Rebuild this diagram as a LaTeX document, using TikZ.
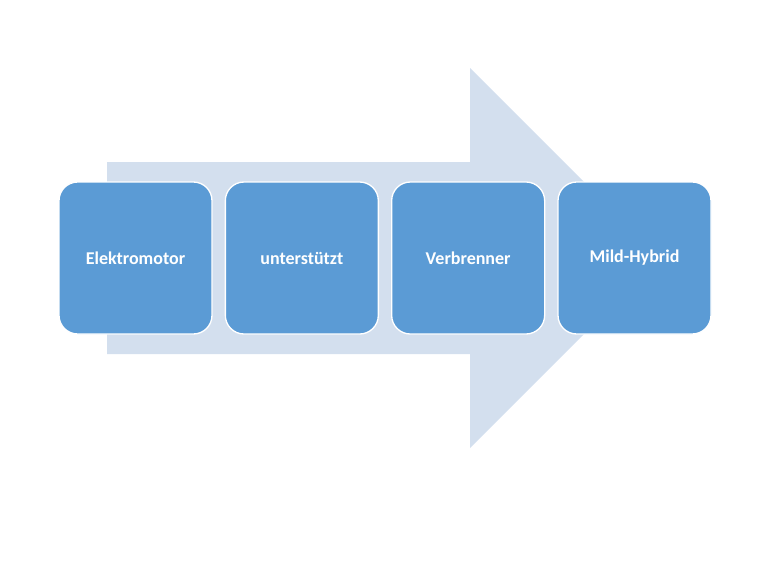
\documentclass[tikz,border=0pt]{standalone}
\usepackage{fontspec}
\setmainfont{Carlito}
\usetikzlibrary{positioning}

\begin{document}
\begin{tikzpicture}[x=0.75pt,y=-0.75pt,
  stage/.style={fill=stageblue, draw=white, line width=1pt, rounded corners=14pt,
    minimum width=153*0.75pt, minimum height=152*0.75pt, text=white,
    font=\bfseries\fontsize{13.5}{16}\selectfont},
  ]
			\definecolor{stageblue}{HTML}{5B9BD5}
			\definecolor{arrowblue}{HTML}{D3DFEE}
			\useasboundingbox (0,0) rectangle (768,561);
			
			% big background arrow
			\fill [arrowblue] (107,162) -- (470,162) -- (470,68) -- (660,258)
			  -- (470,448) -- (470,354) -- (107,354) -- cycle;
			
			\node [stage] (elektro) at (135.5,258) {Elektromotor};
			\node [stage, right=12*0.75pt of elektro] (unterst) {unterstützt};
			\node [stage, right=12*0.75pt of unterst] (verbr) {Verbrenner};
			\node [stage, right=12*0.75pt of verbr] (mild) {Mild-Hybrid};
			\end{tikzpicture}
\end{document}
